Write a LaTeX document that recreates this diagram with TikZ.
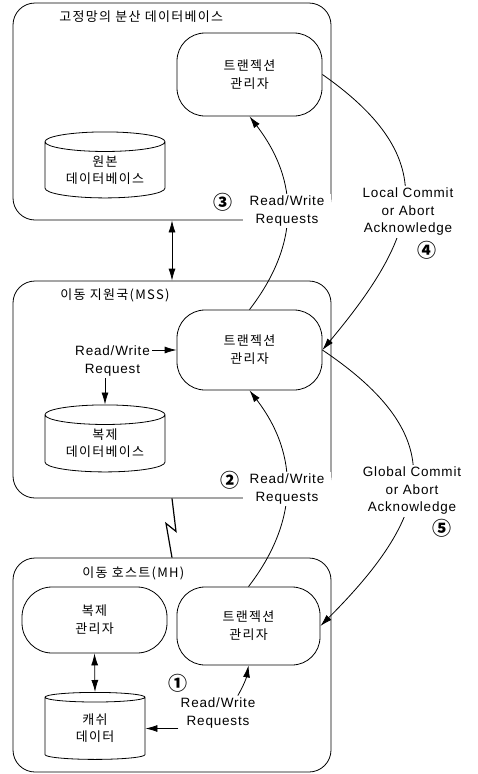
\documentclass[tikz,border=0pt]{standalone}
\usepackage{fontspec}
\setmainfont{Liberation Sans}[LetterSpace=6]
\newfontfamily\kr{Noto Sans CJK KR}[LetterSpace=10]
\usetikzlibrary{arrows.meta,shapes.geometric,calc}

\tikzset{
  frame/.style={draw, rounded corners=22pt, minimum width=318pt},
  title/.style={anchor=west, inner sep=0pt, font=\kr\fontsize{13}{18}\selectfont},
  tm/.style={draw, rounded corners=28pt, minimum width=145pt, align=center,
    font=\kr\fontsize{13}{18}\selectfont},
  db/.style={draw, cylinder, shape border rotate=90, aspect=0.25,
    minimum width=120pt, inner sep=0pt, align=center,
    font=\kr\fontsize{13}{17}\selectfont},
  lbl/.style={fill=white, align=center, inner sep=2pt,
    font=\fontsize{13.5}{17.5}\selectfont},
  num/.style={inner sep=0pt, font=\kr\bfseries\fontsize{19}{19}\selectfont}
}

\begin{document}
\begin{tikzpicture}[x=1pt, y=-1pt, line width=0.8pt,
  >={Latex[length=12pt,width=7pt]}]
\useasboundingbox (0,0) rectangle (478,774);
% 영역
\node [frame, minimum height=217pt] (fixed) at (172,111.5) {};
\node [frame, minimum height=217pt] (mss) at (172,389.5) {};
\node [frame, minimum height=214pt] (mh) at (172,665) {};
\node [title] (fixedT) at (59,17) {고정망의 분산 데이터베이스};
\node [title] (mssT) at (60,295) {이동 지원국(MSS)};
\node [title] (mhT) at (82,573) {이동 호스트(MH)};
% 관리자
\node [tm, minimum height=83pt] (tmA) at (249.5,74.5) {트랜젝션\\관리자};
\node [tm, minimum height=80pt] (tmB) at (249.5,350) {트랜젝션\\관리자};
\node [tm, minimum width=143pt, minimum height=78pt] (tmC) at (248.5,626) {트랜젝션\\관리자};
\node [tm, minimum height=66pt, rounded corners=30pt] (rm) at (94.5,620) {복제\\관리자};
% 데이터베이스
\node [db, minimum height=66pt] (dbA) at (105,170) {원본\\데이터베이스};
\node [db, minimum height=67pt] (dbB) at (105,443.5) {복제\\데이터베이스};
\node [db, minimum width=100pt, minimum height=67pt] (dbC) at (95,728.5) {캐쉬\\데이터};
% 곡선
\draw [->] (tmB.north) .. controls +(50,-65) and +(50,65) .. (tmA.south);
\draw [->] (tmC.north) .. controls +(50,-65) and +(50,65) .. (tmB.south);
\draw [->] (tmA.east) .. controls +(123,86) and +(96,-115) .. (tmB.east);
\draw [->] (tmB.east) .. controls +(128,86) and +(115,-115) .. (tmC.east);
% 설명
\node [lbl, inner xsep=7pt] (rwA) at (287,211) {Read/Write\\Requests};
\node [lbl] (rwB) at (112.5,361) {Read/Write\\Request};
\node [lbl, inner xsep=7pt] (rwM) at (287,489) {Read/Write\\Requests};
\node [lbl] (rwC) at (218,713) {Read/Write\\Requests};
\node [lbl] (ackL) at (408,212) {Local Commit\\or Abort\\Acknowledge};
\node [lbl] (ackG) at (412,491) {Global Commit\\or Abort\\Acknowledge};
\node [num] (n1) at (178,683) {①};
\node [num] (n2) at (230,480) {②};
\node [num] (n3) at (223,202) {③};
\node [num] (n4) at (427,250) {④};
\node [num] (n5) at (442,528) {⑤};
% 연결
\draw [<->] (fixed.south) -- (mss.north);
\draw [line width=1.2pt] (mss.south) -- ++(4,33) -- ++(-10,-8) -- (mh.north);
\draw [->] (rwB.east |- tmB.west) -- (tmB.west);
\draw [->] (rwB.south -| dbB.north) -- (dbB.north);
\draw [<->] (rm.south) -- (dbC.north);
\draw [->] (rwC.west |- dbC.east) -- (dbC.east);
\draw [->] ($(rwC.north)!0.5!(rwC.north east)$) to [bend right=10] (tmC.south);
\end{tikzpicture}
\end{document}
